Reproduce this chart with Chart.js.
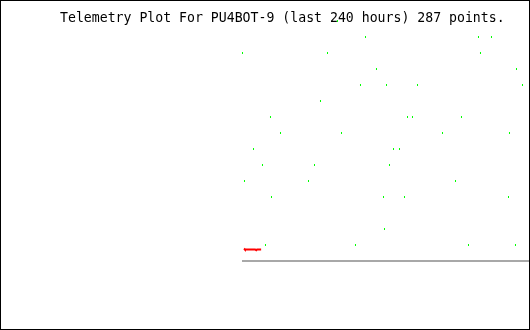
<!DOCTYPE html>
<html>
<head>
<meta charset="utf-8">
<script src="https://cdn.jsdelivr.net/npm/chart.js@4/dist/chart.umd.min.js"></script>
<style>
  body { margin: 0; background: #fff; }
  #wrap { position: relative; width: 530px; height: 330px; }
  #frame { position: absolute; left: 0; top: 0; width: 530px; height: 330px; box-sizing: border-box; border: 1px solid #000; pointer-events: none; }
  #title { position: absolute; left: 60px; top: 11px; font: 13.2px/13.2px "DejaVu Sans Mono", monospace; color: #000; white-space: pre; }
</style>
</head>
<body>
<div id="wrap">
  <canvas id="telemetry" width="530" height="330"></canvas>
  <div id="title">Telemetry Plot For PU4BOT-9 (last 240 hours) 287 points.</div>
  <div id="frame"></div>
</div>
<script>
// hours since start of the 240 h window, and the reported level of each packet
const greenHours = [
  79.86,
  103.28, 197.77, 208.64,
  0.42, 71.50, 199.44,
  112.47, 229.55,
  99.09, 120.84, 146.76, 234.56,
  65.64,
  23.83, 138.40, 142.58, 183.55,
  32.20, 83.21, 167.67, 223.69,
  9.62, 126.69, 131.71,
  17.14, 60.63, 123.34,
  2.09, 55.61, 178.54,
  24.67, 118.33, 135.89, 222.86,
  119.16,
  19.65, 94.91, 189.41, 228.71
];
const greenLevels = [
  15,
  14, 14, 14,
  13, 13, 13,
  12, 12,
  11, 11, 11, 11,
  10,
  9, 9, 9, 9,
  8, 8, 8, 8,
  7, 7, 7,
  6, 6, 6,
  5, 5, 5,
  4, 4, 4, 4,
  2,
  1, 1, 1, 1
];

// second channel, only a short run at the start
const redHours = [1.7, 2.5, 5.0, 8.0, 11.0, 11.9, 12.6, 16.0];
const redLevels = [0.78, 0.72, 0.72, 0.72, 0.72, 0.67, 0.72, 0.72];

const hourRange = [0, 240];
const levelRange = [0, 15];

const greenPoints = greenHours.map((h, i) => ({ x: h, y: greenLevels[i] }));
const redPoints = redHours.map((h, i) => ({ x: h, y: redLevels[i] }));
const basePoints = hourRange.map(h => ({ x: h, y: levelRange[0] }));

const ctx = document.getElementById('telemetry').getContext('2d');
const chart = new Chart(ctx, {
  type: 'scatter',
  data: {
    datasets: [
      {
        label: 'base',
        data: basePoints,
        showLine: true,
        borderColor: '#a8a8a8',
        borderWidth: 2,
        pointRadius: 0,
        clip: false
      },
      {
        label: 'channel 2',
        data: redPoints,
        showLine: true,
        borderColor: '#ff0000',
        borderWidth: 2,
        pointRadius: 0,
        tension: 0
      },
      {
        label: 'channel 1',
        data: greenPoints,
        pointStyle: 'line',
        pointRotation: 90,
        pointRadius: 1,
        pointBorderWidth: 1,
        pointBorderColor: '#00ff00',
        pointBackgroundColor: '#00ff00',
        clip: false
      }
    ]
  },
  options: {
    responsive: false,
    animation: false,
    layout: { autoPadding: false, padding: { left: 242, right: 1, top: 21, bottom: 69 } },
    plugins: {
      legend: { display: false },
      tooltip: { enabled: false }
    },
    scales: {
      x: { type: 'linear', min: hourRange[0], max: hourRange[1], display: false },
      y: { type: 'linear', min: levelRange[0], max: levelRange[1], display: false }
    }
  }
});
</script>
</body>
</html>
